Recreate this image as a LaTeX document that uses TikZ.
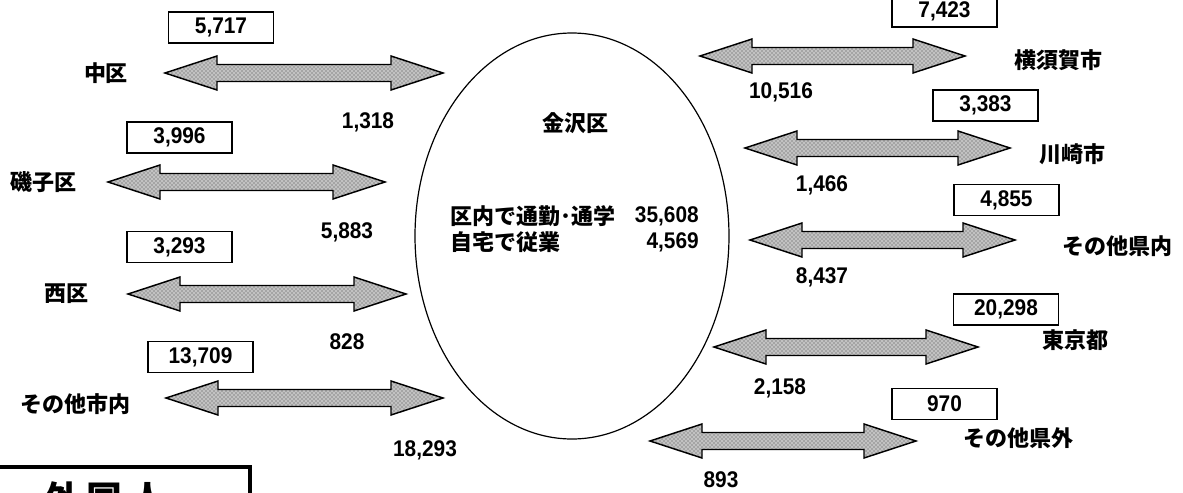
\documentclass[tikz,border=0pt]{standalone}
\usepackage{fontspec}
\setmainfont{Noto Sans CJK JP}
\newfontfamily\numf{Liberation Sans}[FakeStretch=0.92]
\usetikzlibrary{patterns}
\tikzset{
  arrowshape/.style={draw=black, line width=1.1pt, line join=miter,
    preaction={fill=gray!48}, pattern=crosshatch dots, pattern color=gray!55!black},
  numbox/.style={draw=black, line width=1.4pt, minimum width=105*0.75pt, minimum height=31*0.75pt,
    inner sep=0pt, font=\numf\bfseries\fontsize{17}{17}\selectfont},
  place/.style={inner sep=0pt, font=\bfseries\fontsize{16.5}{16.5}\selectfont},
  num/.style={inner sep=0pt, font=\numf\bfseries\fontsize{17}{17}\selectfont},
  inner/.style={inner sep=0pt, font=\bfseries\fontsize{16.5}{16.5}\selectfont},
}
\newcommand\dblarrow[4]{%
  \coordinate (#1-l) at (#2,#4);
  \coordinate (#1-r) at (#3,#4);
  \path[arrowshape] (#1-l) -- (#2+52,#4-17) -- (#2+52,#4-8.5) -- (#3-52,#4-8.5)
    -- (#3-52,#4-17) -- (#1-r) -- (#3-52,#4+17) -- (#3-52,#4+8.5)
    -- (#2+52,#4+8.5) -- (#2+52,#4+17) -- cycle;}
\begin{document}
\begin{tikzpicture}[x=0.75pt,y=-0.75pt]
\useasboundingbox (0,0) rectangle (1183,493);
\clip (0,0) rectangle (1183,493);
\fill[white] (0,0) rectangle (1183,493);

% central ellipse
\draw[line width=0.9pt] (572,236) ellipse [x radius=157, y radius=203];
\coordinate (kz) at (572,236);
\node[inner] (kanazawa) at (575,123) {金沢区};
\node[inner, anchor=west] (in1) at (450,216) {区内で通勤･通学};
\node[inner, anchor=west] (in2) at (450,242) {自宅で従業};
\node[inner, anchor=east, font=\numf\bfseries\fontsize{17}{17}\selectfont] (in1n) at (699,216) {35,608};
\node[inner, anchor=east, font=\numf\bfseries\fontsize{17}{17}\selectfont] (in2n) at (699,242) {4,569};

% arrows
\dblarrow{a1}{165}{443}{73}
\dblarrow{a2}{108}{385}{182}
\dblarrow{a3}{128}{406}{294}
\dblarrow{a4}{166}{443}{398}
\dblarrow{a5}{700}{965}{56}
\dblarrow{a6}{745}{1010}{148}
\dblarrow{a7}{750}{1015}{240}
\dblarrow{a8}{714}{978}{347}
\dblarrow{a9}{650}{916}{441}

% boxes
\node[numbox] (b1) at (221,27.5) {5,717};
\node[numbox] (b2) at (179.5,137.5) {3,996};
\node[numbox] (b3) at (179.5,247) {3,293};
\node[numbox] (b4) at (200.5,357) {13,709};
\node[numbox] (b5) at (944.5,11.5) {7,423};
\node[numbox] (b6) at (985.5,105.5) {3,383};
\node[numbox] (b7) at (1006.5,200) {4,855};
\node[numbox] (b8) at (1006,309.5) {20,298};
\node[numbox] (b9) at (944.5,404) {970};

% place labels
\node[place] (naka) at (106,73) {中区};
\node[place] (isogo) at (44,182) {磯子区};
\node[place] (nishi) at (66,294) {西区};
\node[place] (shinai) at (76,404) {その他市内};
\node[place] (yokosuka) at (1058,60) {横須賀市};
\node[place] (kawasaki) at (1072,154) {川崎市};
\node[place] (kennai) at (1117,246) {その他県内};
\node[place] (tokyo) at (1075,340) {東京都};
\node[place] (kengai) at (1018,438) {その他県外};

% numbers
\node[num] (n1) at (368,122) {1,318};
\node[num] (n2) at (347,232) {5,883};
\node[num] (n3) at (347,342) {828};
\node[num] (n4) at (425,450) {18,293};
\node[num] (n5) at (781,92) {10,516};
\node[num] (n6) at (822,185) {1,466};
\node[num] (n7) at (822,277) {8,437};
\node[num] (n8) at (780,388) {2,158};
\node[num] (n9) at (721,480) {893};

% foreign residents box (cut off at the lower edge, as in the source)
\draw[line width=2.6pt] (-10,467) -- (250,467) -- (250,520);
\node[inner sep=0pt, font=\bfseries\fontsize{27}{27}\selectfont, anchor=north] (gaikoku) at (105,481) {外\hspace{6pt}国\hspace{6pt}人};
\end{tikzpicture}
\end{document}
